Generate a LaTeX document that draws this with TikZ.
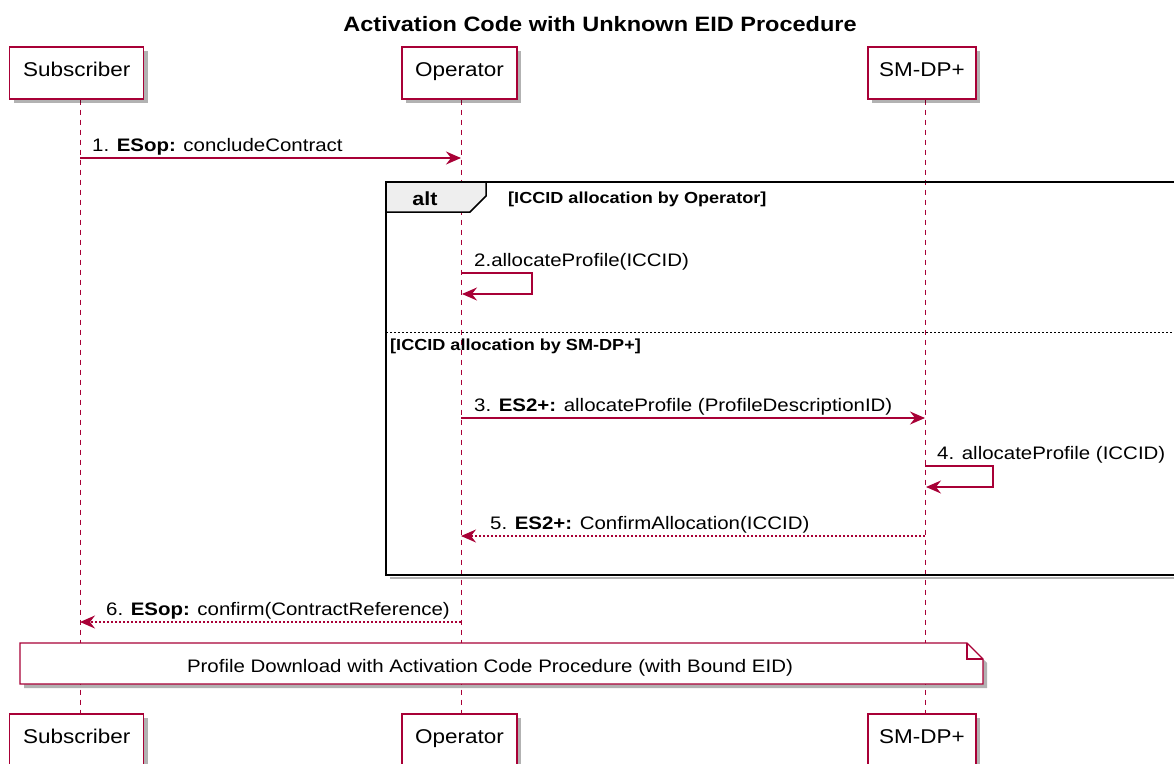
\documentclass[tikz,border=0pt]{standalone}
\usepackage{fontspec}
\setmainfont{Liberation Sans}[FakeStretch=1.13]
\usetikzlibrary{arrows.meta,shadows}
\definecolor{pu}{HTML}{A80036}
\definecolor{tabgray}{HTML}{EEEEEE}
\begin{document}
\begin{tikzpicture}[x=1pt,y=-1pt,
  pbox/.style={draw=pu, line width=1.3pt, fill=white, inner sep=0pt,
    font=\fontsize{19.9}{24}\selectfont, text height=0.72em, text depth=0pt,
    minimum height=52pt,
    drop shadow={shadow xshift=4pt, shadow yshift=-4pt, opacity=0.3, fill=black}},
  lifeline/.style={draw=pu, line width=1pt, dash pattern=on 5pt off 5pt},
  msgline/.style={draw=pu, line width=1.3pt, -{Stealth[length=15pt,width=13pt,inset=5pt]}},
  retline/.style={msgline, dash pattern=on 2pt off 2pt},
  msglabel/.style={anchor=base west, inner sep=0pt, font=\fontsize{18.1}{22}\selectfont},
  guard/.style={anchor=base west, inner sep=0pt, font=\bfseries\fontsize{16}{19}\selectfont},
  notebox/.style={draw=pu, fill=white, line width=1.2pt,
    drop shadow={shadow xshift=4pt, shadow yshift=-4pt, opacity=0.3, fill=black}},
]
\useasboundingbox (0,0) rectangle (1174,763);

% title
\node[anchor=base, inner sep=0pt, font=\bfseries\fontsize{20.8}{25}\selectfont] (title) at (600,31)
  {Activation Code with Unknown EID Procedure};

% lifeline coordinates
\coordinate (subT) at (80,99.5);   \coordinate (subB) at (80,714);
\coordinate (opT)  at (461,99.5);  \coordinate (opB)  at (461,714);
\coordinate (smT)  at (925,99.5);  \coordinate (smB)  at (925,714);
\draw[lifeline] (subT) -- (subB);
\draw[lifeline] (opT) -- (opB);
\draw[lifeline] (smT) -- (smB);

% alt frame
\draw[black!30, line width=2pt] (390,578) -- (1180,578);
\draw[black, line width=2pt] (386,182) rectangle (1180,575);
\draw[black, line width=1.5pt, fill=tabgray] (386,182) -- (486,182) -- (486,196) -- (470,212) -- (386,212) -- cycle;
\node[anchor=base, inner sep=0pt, font=\bfseries\fontsize{19}{22}\selectfont] (alt) at (425,205.5) {alt};
\node[guard] (g1) at (508,203) {[ICCID allocation by Operator]};
\draw[black, line width=1pt, dash pattern=on 2pt off 2pt] (386,332) -- (1174,332);
\node[guard] (g2) at (390,350) {[ICCID allocation by SM-DP+]};

% message 1
\coordinate (m1a) at (80,158); \coordinate (m1b) at (461,158);
\draw[msgline] (m1a) -- (m1b);
\node[msglabel] (l1) at (92,151) {1. \textbf{ESop:} concludeContract};

% message 2 (self)
\coordinate (m2a) at (461,273); \coordinate (m2b) at (462,294);
\draw[msgline] (m2a) -- (532,273) |- (m2b);
\node[msglabel] (l2) at (474,266) {2.allocateProfile(ICCID)};

% message 3
\coordinate (m3a) at (461,418); \coordinate (m3b) at (925,418);
\draw[msgline] (m3a) -- (m3b);
\node[msglabel] (l3) at (474,411) {3. \textbf{ES2+:} allocateProfile (ProfileDescriptionID)};

% message 4 (self)
\coordinate (m4a) at (925,466); \coordinate (m4b) at (926,487);
\draw[msgline] (m4a) -- (993,466) |- (m4b);
\node[msglabel] (l4) at (937,459) {4. allocateProfile (ICCID)};

% message 5
\coordinate (m5a) at (925,536); \coordinate (m5b) at (461,536);
\draw[retline] (m5a) -- (m5b);
\node[msglabel] (l5) at (490,529) {5. \textbf{ES2+:} ConfirmAllocation(ICCID)};

% message 6
\coordinate (m6a) at (461,622); \coordinate (m6b) at (80,622);
\draw[retline] (m6a) -- (m6b);
\node[msglabel] (l6) at (106,615) {6. \textbf{ESop:} confirm(ContractReference)};

% note
\draw[notebox] (20,643) -- (967,643) -- (983,659) -- (983,684) -- (20,684) -- cycle;
\draw[draw=pu, line width=1.2pt] (967,643) -- (967,659) -- (983,659);
\node[anchor=base, inner sep=0pt, font=\fontsize{18.1}{22}\selectfont] (notetext) at (490,672)
  {Profile Download with Activation Code Procedure (with Bound EID)};

% participants
\node[pbox, minimum width=134pt] (sub1) at (76.75,73) {Subscriber};
\node[pbox, minimum width=115pt] (op1)  at (459.5,73) {Operator};
\node[pbox, minimum width=108pt] (sm1)  at (922,73) {SM-DP+};
\node[pbox, minimum width=134pt] (sub2) at (76.75,740) {Subscriber};
\node[pbox, minimum width=115pt] (op2)  at (459.5,740) {Operator};
\node[pbox, minimum width=108pt] (sm2)  at (922,740) {SM-DP+};
\end{tikzpicture}
\end{document}
